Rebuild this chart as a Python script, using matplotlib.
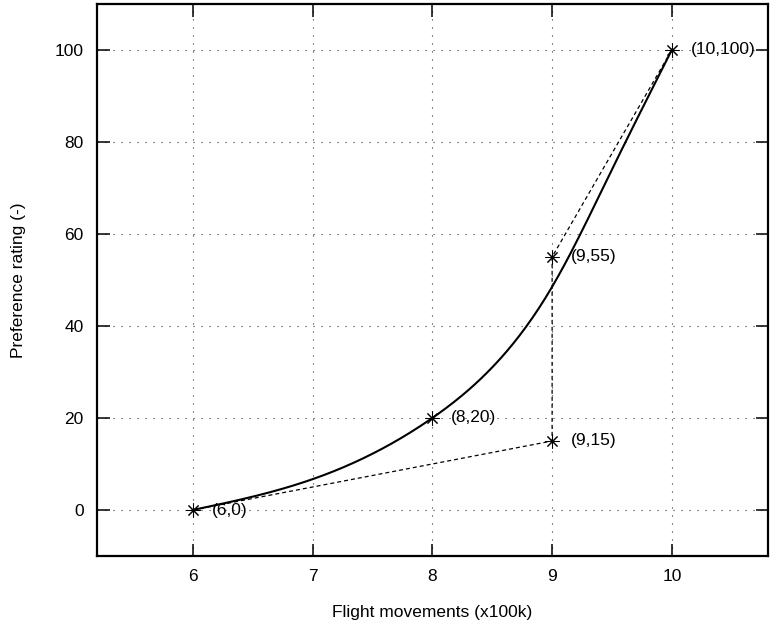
import numpy as np
import matplotlib
matplotlib.use('Agg')
import matplotlib.pyplot as plt

plt.rcParams['font.family'] = ['Liberation Sans', 'DejaVu Sans']
plt.rcParams['font.size'] = 12.5

# labelled design points
pt_x = [6, 8, 9, 9, 10]
pt_y = [0, 20, 55, 15, 100]
pt_lbl = ['(6,0)', '(8,20)', '(9,55)', '(9,15)', '(10,100)']

# dashed construction path
path_x = [6, 9, 9, 10]
path_y = [0, 15, 55, 100]

# preference curve knots
curve_x = [6, 7, 8, 8.5, 9, 9.5, 10]
curve_y = [0, 6.7, 20, 31, 48.5, 74, 100]


def natural_spline(xk, yk, xs):
    xk = np.asarray(xk, float)
    yk = np.asarray(yk, float)
    n = len(xk)
    h = np.diff(xk)
    A = np.zeros((n, n))
    b = np.zeros(n)
    A[0, 0] = A[-1, -1] = 1
    for i in range(1, n - 1):
        A[i, i - 1] = h[i - 1]
        A[i, i] = 2 * (h[i - 1] + h[i])
        A[i, i + 1] = h[i]
        b[i] = 6 * ((yk[i + 1] - yk[i]) / h[i] - (yk[i] - yk[i - 1]) / h[i - 1])
    M = np.linalg.solve(A, b)
    idx = np.clip(np.searchsorted(xk, xs) - 1, 0, n - 2)
    x0, x1 = xk[idx], xk[idx + 1]
    hh = x1 - x0
    t0, t1 = x1 - xs, xs - x0
    return (M[idx] * t0**3 / (6 * hh) + M[idx + 1] * t1**3 / (6 * hh)
            + (yk[idx] / hh - M[idx] * hh / 6) * t0
            + (yk[idx + 1] / hh - M[idx + 1] * hh / 6) * t1)


fig = plt.figure(figsize=(7.7, 6.34), dpi=100)
ax = fig.add_axes([0.126, 0.123, 0.871, 0.871])

xs = np.linspace(6, 10, 300)
ax.plot(xs, natural_spline(curve_x, curve_y, xs), color='black', lw=1.5)
ax.plot(path_x, path_y, color='black', lw=0.9, dashes=(3.2, 2.4))
ax.plot(pt_x, pt_y, ls='none', marker=(8, 2, 0), ms=10, mec='black', mew=0.75, color='black')

for x, y, s in zip(pt_x, pt_y, pt_lbl):
    ax.annotate(s, (x, y), xytext=(13.5, 0), textcoords='offset points',
                va='center', ha='left')

ax.set_xlim(5.2, 10.8)
ax.set_ylim(-10, 110)
ax.set_xticks([6, 7, 8, 9, 10])
ax.set_yticks([0, 20, 40, 60, 80, 100])
ax.grid(True, color='#333333', ls=(0, (1, 6.2)), lw=0.8)
ax.tick_params(direction='in', length=9, width=1.1, top=True, right=True, pad=9.5)
for sp in ax.spines.values():
    sp.set_linewidth(1.6)

ax.set_xlabel('Flight movements (x100k)')
ax.set_ylabel('Preference rating (-)')
ax.xaxis.set_label_coords(0.5, -0.088)
ax.yaxis.set_label_coords(-0.106, 0.5)

fig.savefig('out.png', dpi=100)
